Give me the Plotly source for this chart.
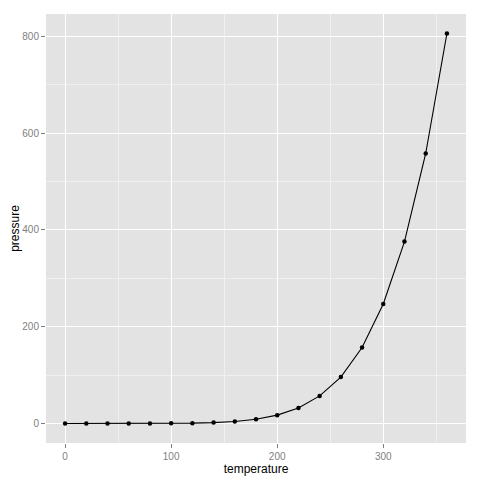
import plotly.graph_objects as go

temperature = [0, 20, 40, 60, 80, 100, 120, 140, 160, 180, 200, 220, 240, 260, 280, 300, 320, 340, 360]
pressure = [0.0002, 0.0012, 0.0060, 0.0300, 0.0900, 0.2700, 0.7500, 1.8500, 4.2000, 8.8000,
            17.3000, 32.1000, 57.0000, 96.0000, 157.0000, 247.0000, 376.0000, 558.0000, 806.0000]

fig = go.Figure()
fig.add_trace(go.Scatter(x=temperature, y=pressure, mode="lines+markers",
                         line=dict(color="black", width=1.1),
                         marker=dict(color="black", size=4.5)))

axis_common = dict(
    automargin=False,
    showgrid=True, gridcolor="white", gridwidth=1.2,
    zeroline=False, showline=False,
    ticks="outside", ticklen=4, tickcolor="#7F7F7F", tickwidth=1,
    tickfont=dict(family="Liberation Sans, Arial, sans-serif", size=10, color="#7F7F7F"),
)

fig.update_layout(
    width=480, height=480,
    margin=dict(l=46, r=14, t=14, b=37),
    paper_bgcolor="white", plot_bgcolor="#E3E3E3",
    showlegend=False,
    font=dict(family="Liberation Sans, Arial, sans-serif"),
    xaxis=dict(range=[-18, 378], tickvals=[0, 100, 200, 300],
               minor=dict(tickvals=[50, 150, 250, 350], showgrid=True, gridcolor="#F0F0F0", gridwidth=0.8, ticks=""),
               title=dict(text="temperature", font=dict(size=12, color="black"), standoff=0),
               **axis_common),
    yaxis=dict(range=[-40.3, 846.3], tickvals=[0, 200, 400, 600, 800],
               minor=dict(tickvals=[100, 300, 500, 700], showgrid=True, gridcolor="#F0F0F0", gridwidth=0.8, ticks=""),
               title=dict(text="pressure", font=dict(size=12, color="black"), standoff=0),
               **axis_common),
)

fig.write_html("out.html", config={"displayModeBar": False},
               post_script="document.body.style.margin='0';document.body.style.padding='0';document.body.style.overflow='hidden';")
